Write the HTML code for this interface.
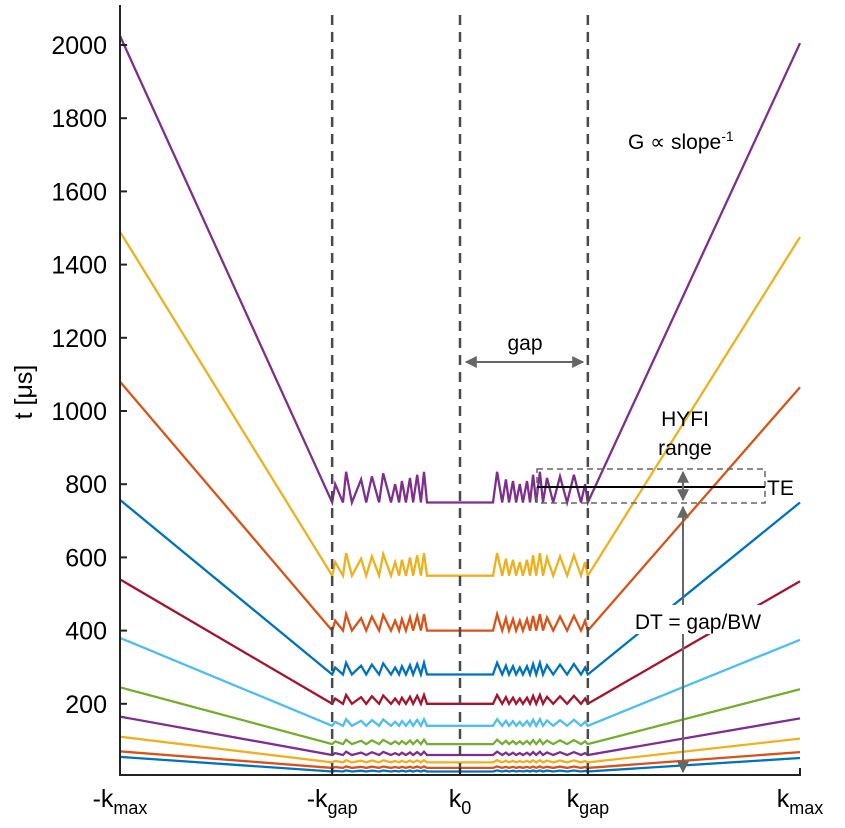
<!DOCTYPE html>
<html><head><meta charset="utf-8"><style>
body{margin:0;background:#fff}
svg text{font-family:"Liberation Sans",Arial,sans-serif;fill:#000}
</style></head><body>
<svg id="chart" width="845" height="823" viewBox="0 0 845 823">
<g id="series"></g>
<g id="axes"></g>
</svg>
<script>
const colors=["#7E2F8E","#EDB120","#D95319","#0072BD","#A2142F","#4DBEEE","#77AC30","#7E2F8E","#EDB120","#D95319","#0072BD"];
const levels=[750,550,400,280,200,140,90,60,40,25,15];
const leftEnds=[2025,1490,1080,757,540,380,245,165,110,70,55];
const rightEnds=[2005,1475,1065,750,535,375,240,160,105,68,52];
const amps=[84,62,45,32,24,18,12,9,6,4,3];
const yTicks=[200,400,600,800,1000,1200,1400,1600,1800,2000];
const xTickK=[-1,-0.376,0,0.376,1];
const kgap=0.376;
const leftPeakK=[-0.367,-0.335,-0.291,-0.259,-0.226,-0.191,-0.171,-0.147,-0.126,-0.106];
const leftPeakH=[0.6,1.0,0.75,0.85,0.95,0.6,0.7,0.8,0.9,1.0];
const leftTroughK=[-0.344,-0.318,-0.276,-0.238,-0.203,-0.179,-0.159,-0.138,-0.115,-0.097];
const rightPeakK=[0.109,0.135,0.156,0.176,0.197,0.215,0.235,0.256,0.294,0.335,0.368];
const rightPeakH=[1.0,0.75,0.7,0.6,0.7,0.9,1.0,0.8,0.85,0.9,0.6];
const rightTroughK=[0.097,0.124,0.144,0.165,0.185,0.206,0.224,0.244,0.274,0.315,0.356];

const X=k=>460+k*340;
const Y=v=>777-v*(732/2000);
const NS="http://www.w3.org/2000/svg";
function mk(t,a,p){const e=document.createElementNS(NS,t);for(const k in a)e.setAttribute(k,a[k]);p.appendChild(e);return e;}
const sg=document.getElementById('series');
levels.forEach((L,i)=>{
  const A=amps[i];const pts=[[-1,leftEnds[i]],[-kgap,L]];
  for(let j=0;j<leftPeakK.length;j++){pts.push([leftPeakK[j],L+A*leftPeakH[j]]);pts.push([leftTroughK[j],L]);}
  for(let j=0;j<rightPeakK.length;j++){pts.push([rightTroughK[j],L]);pts.push([rightPeakK[j],L+A*rightPeakH[j]]);}
  pts.push([kgap,L]);pts.push([1,rightEnds[i]]);
  const p=mk('polyline',{points:pts.map(q=>X(q[0]).toFixed(1)+','+Y(q[1]).toFixed(1)).join(' '),fill:'none',stroke:colors[i],'stroke-width':2.3},sg);
  
  
});
const ax=document.getElementById('axes');
[-kgap,0,kgap].forEach(k=>{const l=mk('line',{x1:X(k),x2:X(k),y1:15,y2:775,stroke:'#4a4a4a','stroke-width':2.5,'stroke-dasharray':'10,7'},ax);

});
mk('line',{x1:120,x2:120,y1:5,y2:776,stroke:'#222','stroke-width':2},ax);
mk('line',{x1:119,x2:801,y1:775,y2:775,stroke:'#222','stroke-width':2},ax);
yTicks.forEach(v=>{mk('line',{x1:120,x2:127,y1:Y(v),y2:Y(v),stroke:'#222','stroke-width':2},ax);
const t=mk('text',{x:107,y:Y(v)+9,'text-anchor':'end','font-size':25},ax);t.textContent=v;

});
const xl=[['-k','max'],['-k','gap'],['k','0'],['k','gap'],['k','max']];
xTickK.forEach((k,i)=>{mk('line',{x1:X(k),x2:X(k),y1:775,y2:768,stroke:'#222','stroke-width':2},ax);
const t=mk('text',{x:X(k),y:807,'text-anchor':'middle','font-size':25},ax);
t.innerHTML=xl[i][0]+'<tspan dy="7" font-size="18">'+xl[i][1]+'</tspan>';

});
</script>
<svg style="position:absolute;left:0;top:0" width="845" height="823">
<defs><marker id="ah2" viewBox="0 0 10 10" refX="9" refY="5" markerWidth="6" markerHeight="6" orient="auto-start-reverse"><path d="M0,0L10,5L0,10z" fill="#666"/></marker></defs>
<text x="32" y="392" font-size="25" text-anchor="middle" transform="rotate(-90 32 392)" font-family="Liberation Sans,sans-serif">t [μs]</text>
<text x="628" y="149" font-size="21" font-family="Liberation Sans,sans-serif">G ∝ slope<tspan dy="-8" font-size="14">-1</tspan></text>
<line x1="466" y1="362" x2="583" y2="362" stroke="#666" stroke-width="2" marker-start="url(#ah2)" marker-end="url(#ah2)"/>
<text x="525" y="350" font-size="21" text-anchor="middle" font-family="Liberation Sans,sans-serif">gap</text>
<text x="685" y="426" font-size="21" text-anchor="middle" font-family="Liberation Sans,sans-serif">HYFI</text>
<text x="685" y="455" font-size="21" text-anchor="middle" font-family="Liberation Sans,sans-serif">range</text>
<rect x="537" y="469" width="228" height="34" fill="none" stroke="#666" stroke-width="1.5" stroke-dasharray="6,4"/>
<line x1="537" y1="487" x2="765" y2="487" stroke="#000" stroke-width="2"/>
<text x="767" y="495" font-size="21" font-family="Liberation Sans,sans-serif">TE</text>
<line x1="683" y1="472" x2="683" y2="500" stroke="#666" stroke-width="2" marker-start="url(#ah2)" marker-end="url(#ah2)"/>
<line x1="683" y1="507" x2="683" y2="772" stroke="#666" stroke-width="2" marker-start="url(#ah2)" marker-end="url(#ah2)"/>
<rect x="622" y="605" width="152" height="29" fill="#fff"/>
<text x="698" y="629" font-size="21" text-anchor="middle" font-family="Liberation Sans,sans-serif">DT = gap/BW</text>
</svg>
</body></html>
